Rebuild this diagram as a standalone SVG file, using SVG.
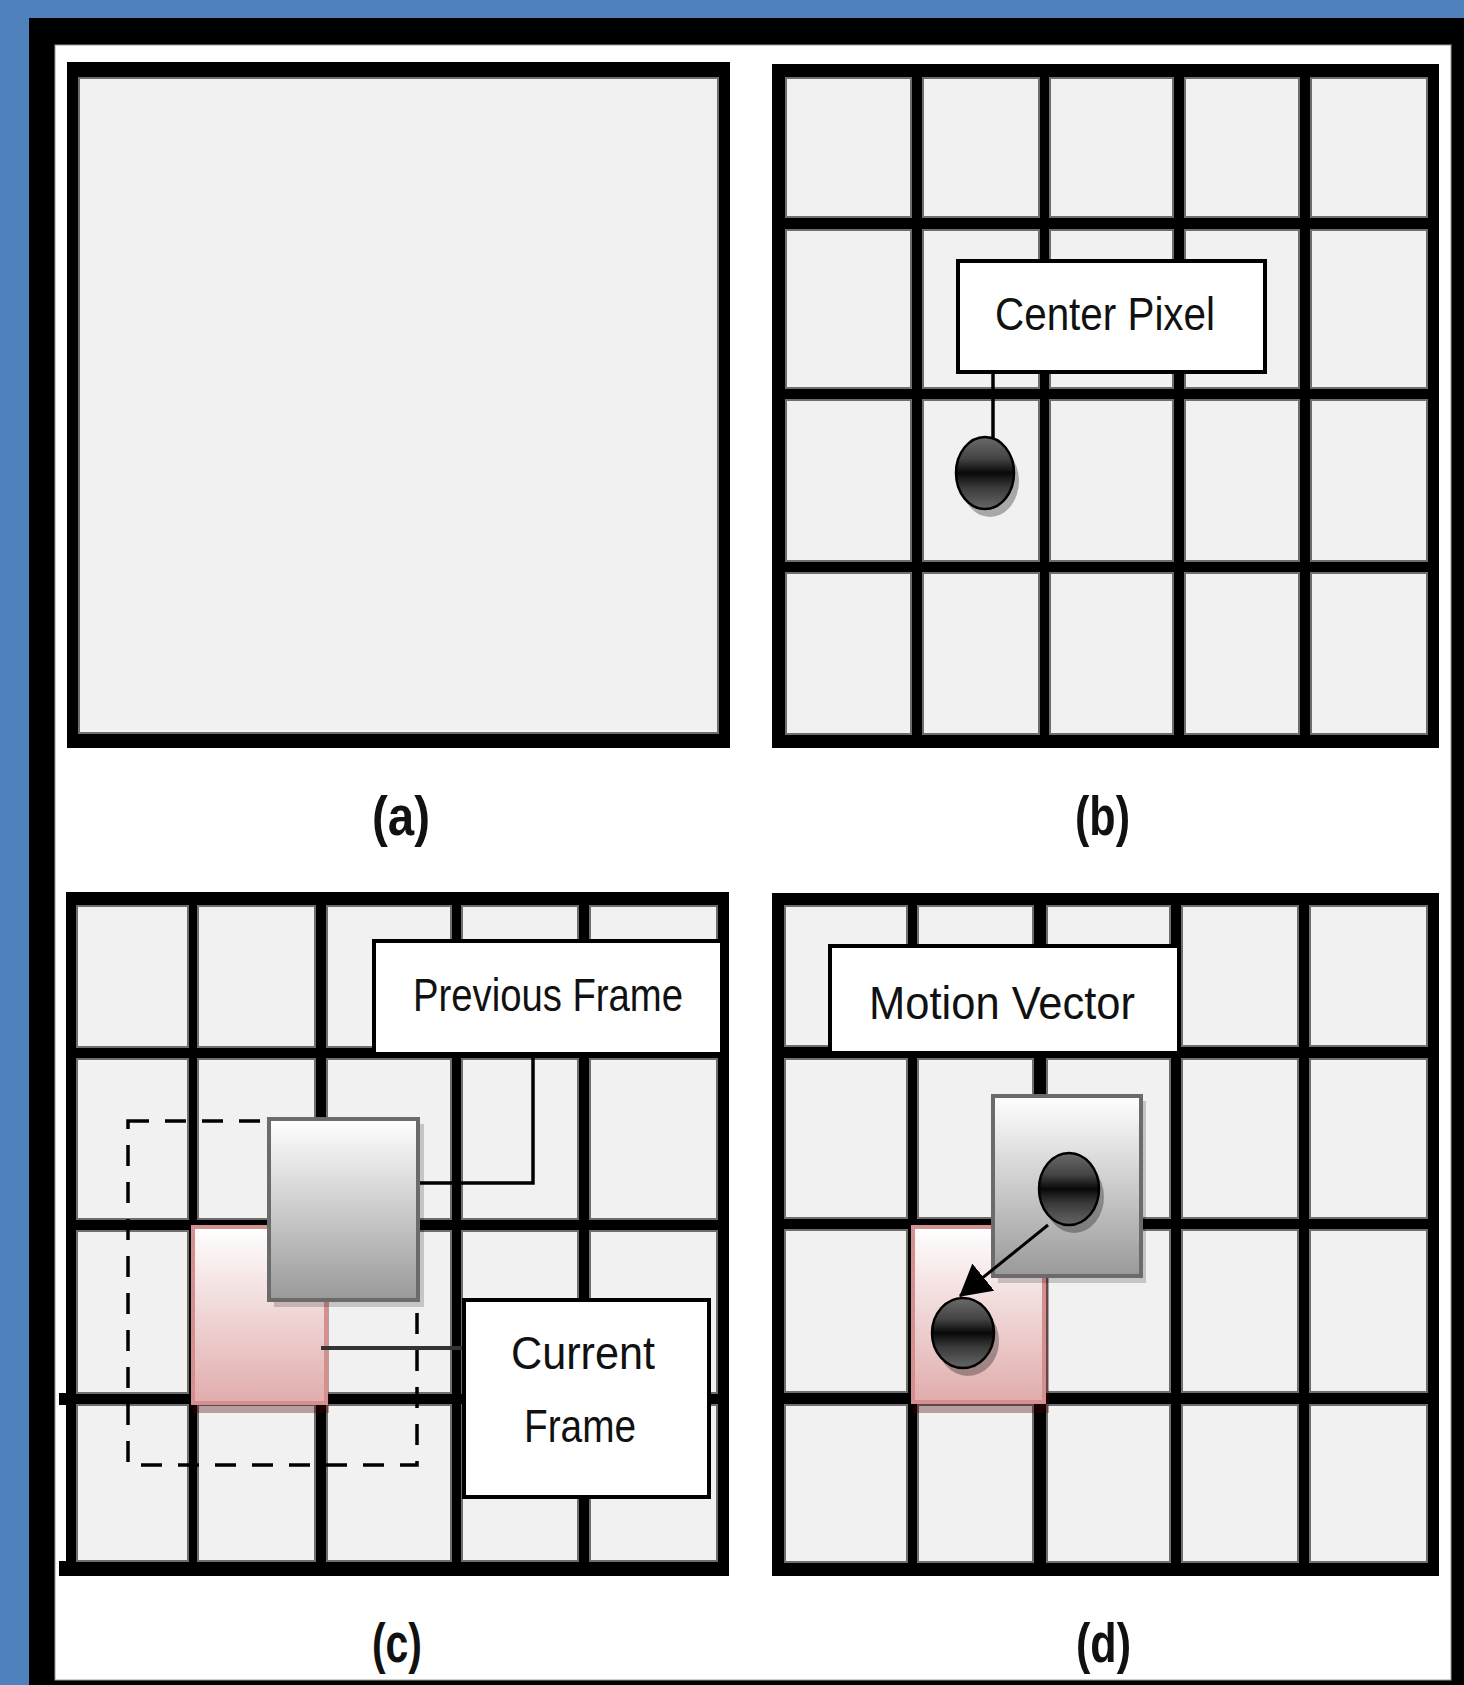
<svg xmlns="http://www.w3.org/2000/svg" width="1464" height="1685" viewBox="0 0 1464 1685">
<defs>
  <linearGradient id="gGray" x1="0" y1="0" x2="0" y2="1">
    <stop offset="0" stop-color="#ffffff"/>
    <stop offset="1" stop-color="#999999"/>
  </linearGradient>
  <linearGradient id="gPink" x1="0" y1="0" x2="0" y2="1">
    <stop offset="0" stop-color="#ffffff"/>
    <stop offset="1" stop-color="#e1acac"/>
  </linearGradient>
  <linearGradient id="gDot" x1="0" y1="0" x2="0" y2="1">
    <stop offset="0" stop-color="#6a6a6a"/>
    <stop offset="0.3" stop-color="#444444"/>
    <stop offset="0.5" stop-color="#080808"/>
    <stop offset="0.7" stop-color="#3a3a3a"/>
    <stop offset="1" stop-color="#666666"/>
  </linearGradient>
  <marker id="arrow" viewBox="0 0 31 35" refX="30" refY="17.5" markerWidth="31" markerHeight="35" markerUnits="userSpaceOnUse" orient="auto">
    <path d="M0,0 L31,17.5 L0,35 z" fill="#000"/>
  </marker>
</defs>
<style>
  .cell { fill: #f1f1f1; stroke: #6e6e6e; stroke-width: 2; }
  .band { fill: #000; }
  .callout { fill: #ffffff; stroke: #000; stroke-width: 4; }
  .ctext { font-family: "Liberation Sans", Arial, sans-serif; font-size: 46px; fill: #111; }
  .lbl { font-family: "Liberation Sans", Arial, sans-serif; font-size: 55px; font-weight: bold; fill: #111; }
  .sqGray { fill: url(#gGray); stroke: #6b6b6b; stroke-width: 4; }
  .sqPink { fill: url(#gPink); stroke: #d48f8f; stroke-width: 4; }
  .shadowG { fill: #000; opacity: 0.18; }
  .shadowP { fill: #4a0000; opacity: 0.35; }
  .dot { fill: url(#gDot); stroke: #000; stroke-width: 2.5; }
  .dotShadow { fill: #000; opacity: 0.3; }
  .conn { fill: none; stroke: #000; stroke-width: 3.5; }
</style>

<!-- page background and frame -->
<rect x="0" y="0" width="1464" height="1685" fill="#4f81bd"/>
<rect x="29" y="18" width="1435" height="1667" fill="#000"/>
<rect x="55" y="45" width="1396" height="1635" fill="#ffffff" stroke="#9a9a9a" stroke-width="1"/>

<!-- panel (a) -->
<g id="panel-a">
  <rect x="67" y="62" width="663" height="686" class="band"/>
  <rect x="79" y="78" width="639" height="655" class="cell"/>
</g>

<!-- panel (b) -->
<g id="panel-b">
  <rect x="772" y="64" width="667" height="684" class="band"/>
  <path class="cell" d="M786 78h125v139h-125z M923 78h116v139h-116z M1050 78h123v139h-123z M1185 78h114v139h-114z M1311 78h116v139h-116z
  M786 230h125v158h-125z M923 230h116v158h-116z M1050 230h123v158h-123z M1185 230h114v158h-114z M1311 230h116v158h-116z
  M786 400h125v161h-125z M923 400h116v161h-116z M1050 400h123v161h-123z M1185 400h114v161h-114z M1311 400h116v161h-116z
  M786 573h125v161h-125z M923 573h116v161h-116z M1050 573h123v161h-123z M1185 573h114v161h-114z M1311 573h116v161h-116z"/>
</g>

<!-- panel (c) -->
<g id="panel-c">
  <rect x="66" y="892" width="663" height="684" class="band"/>
  <rect x="59" y="1393" width="8" height="12" class="band"/>
  <rect x="59" y="1561" width="8" height="15" class="band"/>
  <path class="cell" d="M77 906h111v141h-111z M198 906h117v141h-117z M327 906h124v141h-124z M462 906h116v141h-116z M590 906h127v141h-127z
  M77 1059h111v160h-111z M198 1059h117v160h-117z M327 1059h124v160h-124z M462 1059h116v160h-116z M590 1059h127v160h-127z
  M77 1231h111v162h-111z M198 1231h117v162h-117z M327 1231h124v162h-124z M462 1231h116v162h-116z M590 1231h127v162h-127z
  M77 1405h111v156h-111z M198 1405h117v156h-117z M327 1405h124v156h-124z M462 1405h116v156h-116z M590 1405h127v156h-127z"/>
</g>

<!-- panel (d) -->
<g id="panel-d">
  <rect x="772" y="893" width="667" height="683" class="band"/>
  <path class="cell" d="M785 906h122v140h-122z M918 906h115v140h-115z M1047 906h123v140h-123z M1182 906h116v140h-116z M1310 906h117v140h-117z
  M785 1059h122v159h-122z M918 1059h115v159h-115z M1047 1059h123v159h-123z M1182 1059h116v159h-116z M1310 1059h117v159h-117z
  M785 1230h122v162h-122z M918 1230h115v162h-115z M1047 1230h123v162h-123z M1182 1230h116v162h-116z M1310 1230h117v162h-117z
  M785 1405h122v157h-122z M918 1405h115v157h-115z M1047 1405h123v157h-123z M1182 1405h116v157h-116z M1310 1405h117v157h-117z"/>
</g>

<!-- panel (b) contents -->
<g id="center-pixel-dot">
  <ellipse cx="990" cy="481" rx="29" ry="36" class="dotShadow"/>
  <ellipse cx="985" cy="473" rx="29" ry="36" class="dot"/>
</g>
<g id="center-pixel-label">
  <rect x="958" y="261" width="307" height="111" class="callout"/>
  <text x="995" y="330" class="ctext" textLength="220" lengthAdjust="spacingAndGlyphs">Center Pixel</text>
</g>

<!-- panel (c) contents -->
<g id="search-window">
  <rect x="128" y="1121" width="289" height="344" fill="none" stroke="#000" stroke-width="3.5" stroke-dasharray="21 16"/>
</g>
<g id="current-block-c">
  <rect x="193" y="1232" width="136" height="181" class="shadowP"/>
  <rect x="193" y="1227" width="133" height="176" class="sqPink"/>
</g>
<g id="previous-block-c">
  <rect x="274" y="1124" width="150" height="183" class="shadowG"/>
  <rect x="269" y="1119" width="149" height="181" class="sqGray"/>
</g>
<g id="previous-frame-label">
  <rect x="374" y="941" width="348" height="113" class="callout"/>
  <text x="413" y="1011" class="ctext" textLength="270" lengthAdjust="spacingAndGlyphs">Previous Frame</text>
</g>
<g id="current-frame-label">
  <rect x="464" y="1300" width="245" height="197" class="callout"/>
  <text x="511" y="1369" class="ctext" textLength="144" lengthAdjust="spacingAndGlyphs">Current</text>
  <text x="524" y="1442" class="ctext" textLength="112" lengthAdjust="spacingAndGlyphs">Frame</text>
</g>

<!-- panel (d) contents -->
<g id="current-block-d">
  <rect x="913" y="1232" width="136" height="181" class="shadowP"/>
  <rect x="913" y="1227" width="131" height="175" class="sqPink"/>
</g>
<g id="previous-block-d">
  <rect x="998" y="1101" width="148" height="182" class="shadowG"/>
  <rect x="993" y="1096" width="148" height="180" class="sqGray"/>
</g>
<g id="dot-previous">
  <ellipse cx="1074" cy="1197" rx="30" ry="36" class="dotShadow"/>
  <ellipse cx="1069" cy="1189" rx="30" ry="36" class="dot"/>
</g>
<g id="dot-current">
  <ellipse cx="968" cy="1341" rx="31" ry="35" class="dotShadow"/>
  <ellipse cx="963" cy="1333" rx="31" ry="35" class="dot"/>
</g>
<g id="motion-vector-label">
  <rect x="830" y="946" width="349" height="107" class="callout"/>
  <text x="869" y="1019" class="ctext" textLength="266" lengthAdjust="spacingAndGlyphs">Motion Vector</text>
</g>

<!-- connectors -->
<g id="connectors">
  <line x1="993" y1="374" x2="993" y2="438" class="conn" stroke-width="3"/>
  <polyline points="533,1055 533,1183 420,1183" class="conn"/>
  <line x1="321" y1="1348" x2="462" y2="1348" stroke="#333" stroke-width="4"/>
  <line x1="1048" y1="1225" x2="960" y2="1296" stroke="#000" stroke-width="3" marker-end="url(#arrow)"/>
</g>

<!-- captions -->
<g id="captions">
  <text x="372" y="835" class="lbl" textLength="58" lengthAdjust="spacingAndGlyphs">(a)</text>
  <text x="1075" y="835" class="lbl" textLength="55" lengthAdjust="spacingAndGlyphs">(b)</text>
  <text x="372" y="1662" class="lbl" textLength="50" lengthAdjust="spacingAndGlyphs">(c)</text>
  <text x="1076" y="1662" class="lbl" textLength="55" lengthAdjust="spacingAndGlyphs">(d)</text>
</g>
</svg>
